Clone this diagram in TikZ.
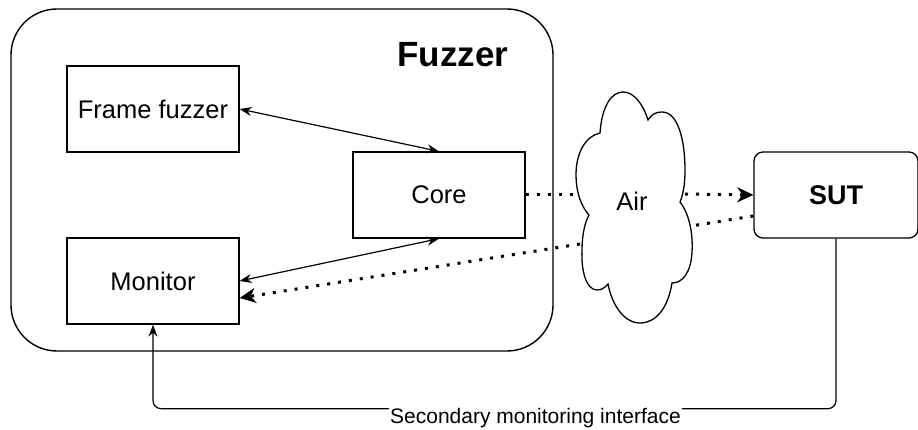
\documentclass[tikz,border=0pt]{standalone}
\usepackage{fontspec}
\setmainfont{Liberation Sans}
\usetikzlibrary{arrows.meta,calc}

\begin{document}
\begin{tikzpicture}[x=1pt,y=-1pt,
  block/.style={draw,line width=1.3pt,minimum width=172pt,minimum height=86pt,inner sep=0pt,font=\fontsize{25.5}{30}\selectfont},
  link/.style={line width=1.2pt,{Stealth[length=12pt,width=9pt,inset=4pt]}-{Stealth[length=12pt,width=9pt,inset=4pt]}},
  radio/.style={line width=3pt,dash pattern=on 3pt off 8pt},
  radiotip/.style={-{Stealth[length=16pt,width=15pt,inset=5pt]}},
  wire/.style={line width=1.2pt,rounded corners=8pt,-{Stealth[length=12pt,width=9pt,inset=4pt]}}]
  \useasboundingbox (0,0) rectangle (918,430);
  \draw[line width=1.4pt,rounded corners=46pt] (11,9) rectangle (553,351);
  \node[font=\fontsize{35}{40}\selectfont\bfseries,anchor=base,inner sep=0pt] (title) at (453,67) {Fuzzer};

  \node[block] (frame) at (153,109) {Frame fuzzer};
  \node[block] (core) at (439,195) {Core};
  \node[block] (monitor) at (153,281) {Monitor};
  \node[block,rounded corners=9pt,minimum width=164pt,font=\fontsize{27}{30}\selectfont\bfseries] (sut) at (836,195) {SUT};

  \draw[line width=1.3pt] (600,133) .. controls (602,105) and (612,92) .. (623,92)
    .. controls (634,92) and (643,104) .. (648,120)
    .. controls (652,114) and (656,112) .. (662,112)
    .. controls (678,112) and (685,140) .. (685,170)
    .. controls (685,185) and (683,195) .. (680,202)
    .. controls (690,215) and (693,235) .. (692,252)
    .. controls (691,272) and (683,283) .. (672,283)
    .. controls (668,308) and (656,323) .. (640,323)
    .. controls (624,323) and (612,305) .. (608,284)
    .. controls (604,289) and (600,290) .. (597,290)
    .. controls (586,290) and (581,270) .. (582,250)
    .. controls (582,235) and (585,222) .. (589,215)
    .. controls (580,205) and (576,190) .. (576,175)
    .. controls (576,152) and (586,136) .. (600,133) -- cycle;
  \node[font=\fontsize{25.5}{30}\selectfont] (air) at (632,201) {Air};
  \coordinate (airW) at (576,195);
  \coordinate (airE) at (685,194);
  \coordinate (airE2) at (691,226);
  \coordinate (airW2) at (580,244);

  \draw[link] (frame.east) -- (core.north);
  \draw[link] (core.south) -- (monitor.east);
  \draw[radio] (core.east) -- (airW);
  \draw[radio,radiotip] (airE) -- (sut.west);
  \draw[radio] ($(sut.west)+(0,21)$) -- (airE2);
  \draw[radio,radiotip] (airW2) -- ($(monitor.east)+(0,17)$);

  \draw[wire] (sut.south) |- ($(monitor.south)+(0,84)$)
    node[pos=0.72,fill=white,inner xsep=2pt,inner ysep=3pt,text height=16pt,text depth=5pt,yshift=-9pt,font=\fontsize{21}{24}\selectfont] (iface) {Secondary monitoring interface}
    -- (monitor.south);
\end{tikzpicture}
\end{document}
